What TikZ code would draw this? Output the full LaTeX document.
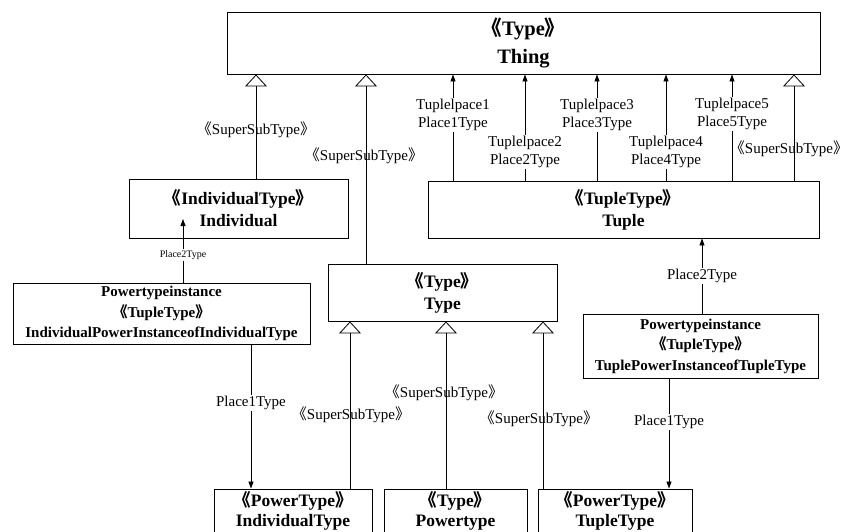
\documentclass[tikz,border=0pt]{standalone}
\usepackage{fontspec}
\setmainfont{Liberation Serif}
\newfontfamily\cjk{Noto Sans CJK SC}
\usetikzlibrary{arrows.meta}
\newcommand\opb{\kern-0.3em{\cjk 《}}
\newcommand\clb{{\cjk 》}\kern-0.3em}
\begin{document}
\begin{tikzpicture}[x=1pt,y=-1pt,
  box/.style={draw, line width=0.9pt, inner sep=0pt, align=center,
    font=\bfseries\fontsize{17.5}{22}\selectfont},
  pibox/.style={box, font=\bfseries\fontsize{15}{20.5}\selectfont},
  botbox/.style={box, font=\bfseries\fontsize{17.5}{20.5}\selectfont},
  inh/.style={line width=0.8pt, -{Triangle[open, width=22pt, length=12pt]}},
  assoc/.style={line width=0.8pt, -{Triangle[width=5pt, length=7pt]}},
  lbl/.style={fill=white, inner sep=1pt, align=center,
    font=\fontsize{15}{18}\selectfont},
  sslbl/.style={inner sep=0pt, font=\fontsize{15}{18}\selectfont}]
\useasboundingbox (0,0) rectangle (850,531);
\clip (0,0) rectangle (850,531);
\fill[white] (0,0) rectangle (850,531);

% boxes
\node[box, minimum width=593pt, minimum height=62pt,
  font=\bfseries\fontsize{20.5}{28}\selectfont] (thing) at (523.5,43) {\opb Type\clb\\Thing};
\node[box, minimum width=219pt, minimum height=59pt] (ind) at (238.5,208.5) {\opb IndividualType\clb\\Individual};
\node[box, minimum width=391pt, minimum height=57pt] (tuple) at (623.5,209.5) {\opb TupleType\clb\\Tuple};
\node[box, minimum width=229pt, minimum height=57pt] (type) at (442.5,292.5) {\opb Type\clb\\Type};
\node[pibox, minimum width=297pt, minimum height=61pt] (ipi) at (161.5,313.5)
  {Powertypeinstance\\\opb TupleType\clb\\IndividualPowerInstanceofIndividualType};
\node[pibox, minimum width=235pt, minimum height=64pt] (tpi) at (700.5,346)
  {Powertypeinstance\\\opb TupleType\clb\\TuplePowerInstanceofTupleType};
\node[botbox, minimum width=158pt, minimum height=44pt] (indt) at (293,511) {\opb PowerType\clb\\IndividualType};
\node[botbox, minimum width=143pt, minimum height=44pt] (pwt) at (455.5,511) {\opb Type\clb\\Powertype};
\node[botbox, minimum width=154pt, minimum height=44pt] (tupt) at (615,511) {\opb PowerType\clb\\TupleType};

% columns
\coordinate (xa) at (256,0);
\coordinate (xb) at (366,0);
\coordinate (xc) at (794,0);
\coordinate (t1) at (453,0);
\coordinate (t2) at (525,0);
\coordinate (t3) at (597,0);
\coordinate (t4) at (666,0);
\coordinate (t5) at (732,0);
\coordinate (xd) at (702,0);
\coordinate (xe) at (251,0);
\coordinate (xf) at (669,0);
\coordinate (s1) at (350,0);
\coordinate (s2) at (446,0);
\coordinate (s3) at (543,0);
\coordinate (ipend) at (183,219);

% generalisations
\draw[inh] (ind.north -| xa) -- (thing.south -| xa);
\draw[inh] (type.north -| xb) -- (thing.south -| xb);
\draw[inh] (tuple.north -| xc) -- (thing.south -| xc);
\draw[inh] (indt.north -| s1) -- (type.south -| s1);
\draw[inh] (pwt.north -| s2) -- (type.south -| s2);
\draw[inh] (tupt.north -| s3) -- (type.south -| s3);

% associations
\foreach \c in {t1,t2,t3,t4,t5}
  \draw[assoc] (tuple.north -| \c) -- (thing.south -| \c);
\draw[assoc] (ipi.north -| ipend) -- (ipend);
\draw[assoc] (tpi.north -| xd) -- (tuple.south -| xd);
\draw[assoc] (ipi.south -| xe) -- (indt.north -| xe);
\draw[assoc] (tpi.south -| xf) -- (tupt.north -| xf);

% labels
\node[sslbl] (ss1) at (256,130) {\opb SuperSubType\clb};
\node[sslbl] (ss2) at (364,156) {\opb SuperSubType\clb};
\node[sslbl] (ss3) at (789,149) {\opb SuperSubType\clb};
\node[sslbl] (ss4) at (351,415) {\opb SuperSubType\clb};
\node[sslbl] (ss5) at (444,393) {\opb SuperSubType\clb};
\node[sslbl] (ss6) at (539,419) {\opb SuperSubType\clb};
\node[lbl] (l1) at (453,115) {Tuplelpace1\\Place1Type};
\node[lbl] (l2) at (525,152) {Tuplelpace2\\Place2Type};
\node[lbl] (l3) at (597,115) {Tuplelpace3\\Place3Type};
\node[lbl] (l4) at (666,152) {Tuplelpace4\\Place4Type};
\node[lbl] (l5) at (732,114) {Tuplelpace5\\Place5Type};
\node[lbl, font=\fontsize{10}{12}\selectfont] (p2a) at (183,255) {Place2Type};
\node[lbl] (p2b) at (702,276) {Place2Type};
\node[lbl] (p1a) at (251,403) {Place1Type};
\node[lbl] (p1b) at (669,422) {Place1Type};
\end{tikzpicture}
\end{document}
